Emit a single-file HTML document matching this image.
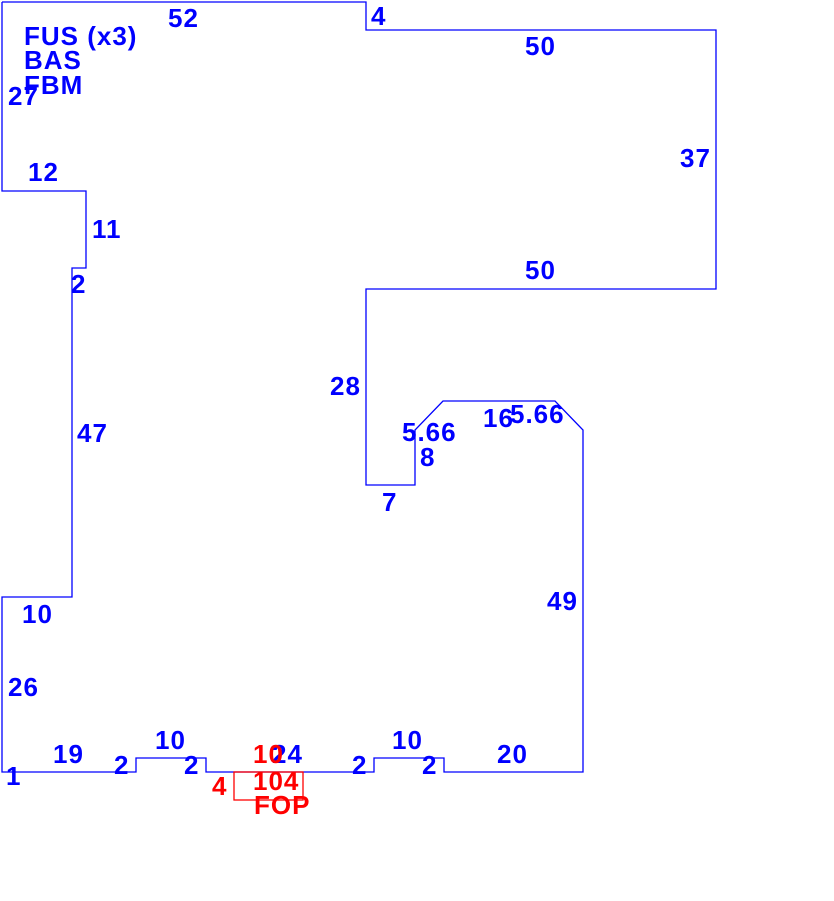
<!DOCTYPE html>
<html><head><style>body{margin:0;background:#fff}svg{display:block}</style></head><body>
<svg width="834" height="901" xmlns="http://www.w3.org/2000/svg" font-family="Liberation Sans, Arial, sans-serif" font-weight="bold" font-size="26" letter-spacing="1">
<polyline fill="none" stroke="#0000ff" stroke-width="1.3" points="2,2 366,2 366,30 716,30 716,289 366,289 366,485 415,485 415,430 443,401 555,401 583,430 583,772 444,772 444,758 374,758 374,772 206,772 206,758 136,758 136,772 2,772 2,597 72,597 72,268 86,268 86,191 2,191 2,2"/>
<rect x="234" y="772" width="69" height="28" fill="none" stroke="#ff0000" stroke-width="1.3"/>
<g fill="#0000ff">
<text x="24" y="45">FUS (x3)</text>
<text x="24" y="69">BAS</text>
<text x="24" y="94">FBM</text>
<text x="168" y="27">52</text>
<text x="371" y="25">4</text>
<text x="525" y="55">50</text>
<text x="8" y="105">27</text>
<text x="680" y="167">37</text>
<text x="28" y="181">12</text>
<text x="92" y="238">11</text>
<text x="525" y="279">50</text>
<text x="71" y="293">2</text>
<text x="330" y="395">28</text>
<text x="483" y="427">16</text>
<text x="510" y="423">5.66</text>
<text x="402" y="441">5.66</text>
<text x="420" y="466">8</text>
<text x="77" y="442">47</text>
<text x="382" y="511">7</text>
<text x="547" y="610">49</text>
<text x="22" y="623">10</text>
<text x="8" y="696">26</text>
<text x="155" y="749">10</text>
<text x="392" y="749">10</text>
<text x="53" y="763">19</text>
<text x="497" y="763">20</text>
<text x="272" y="763">24</text>
<text x="114" y="774">2</text>
<text x="184" y="774">2</text>
<text x="352" y="774">2</text>
<text x="422" y="774">2</text>
<text x="6" y="785">1</text>
</g>
<g fill="#ff0000">
<text x="253" y="763">10</text>
<text x="212" y="795">4</text>
<text x="253" y="790">104</text>
<text x="254" y="814">FOP</text>
</g>
</svg>
</body></html>
